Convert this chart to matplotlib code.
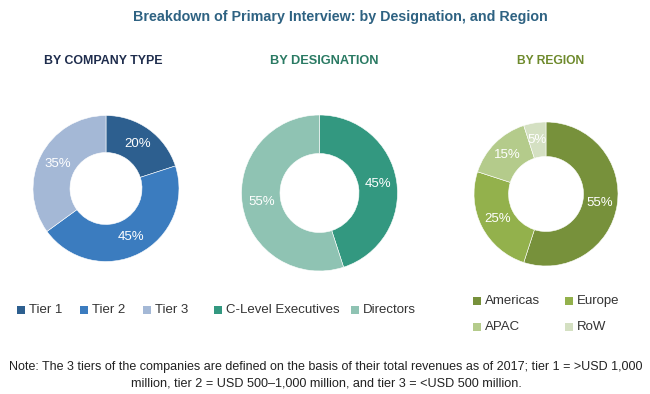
import numpy as np
import matplotlib
matplotlib.use("Agg")
import matplotlib.pyplot as plt

## Data
companyLabels = ["Tier 1", "Tier 2", "Tier 3"]
companyValues = [20, 45, 35]
designationLabels = ["C-Level Executives", "Directors"]
designationValues = [45, 55]
regionLabels = ["Americas", "Europe", "APAC", "RoW"]
regionValues = [55, 25, 15, 5]

companyColors = ["#2d5f8f", "#3b7cbf", "#a4b8d6"]
designationColors = ["#339880", "#8fc3b3"]
regionColors = ["#77913b", "#93b14c", "#b4cb8b", "#d4e0c2"]

plt.rcParams["font.family"] = ["Liberation Sans", "DejaVu Sans"]

W, H = 650, 394
fig = plt.figure(figsize=(6.5, 3.94), dpi=100, facecolor="white")
ax = fig.add_axes([0, 0, 1, 1])
ax.set_xlim(0, W)
ax.set_ylim(0, H)
ax.axis("off")
renderer = fig.canvas.get_renderer()

def Y(y):
  return H - y

def fitText(x, y, s, width, size, **kw):
  # shrink/grow the font so the text spans about `width` pixels
  t = ax.text(x, Y(y), s, fontsize=size, **kw)
  w = t.get_window_extent(renderer).width
  t.set_fontsize(size * width / w)
  return t

def donut(values, colors, cx, cy, r, hole):
  ax.pie(values, colors=colors, center=(cx, Y(cy)), radius=r,
    startangle=90, counterclock=False, frame=True,
    wedgeprops=dict(width=r - hole, edgecolor="white", linewidth=0.4))
  total = float(sum(values))
  start = 90.0
  for v in values:
    mid = np.deg2rad(start - 360.0 * v / total / 2.0)
    rr = (r + hole) / 2.0
    ax.text(cx + rr * np.cos(mid), Y(cy) + rr * np.sin(mid), "{:d}%".format(v),
      color="white", fontsize=9.5, ha="center", va="center")
    start -= 360.0 * v / total

donut(companyValues, companyColors, 106, 188.5, 73, 36)
donut(designationValues, designationColors, 319.5, 193, 78, 39.5)
donut(regionValues, regionColors, 546, 194, 72, 37.5)

## Titles
fitText(340, 17, "Breakdown of Primary Interview: by Designation, and Region", 410, 12,
  color="#2e6282", fontweight="bold", ha="center", va="center")
fitText(103, 61, "BY COMPANY TYPE", 118, 11, color="#1f2d4d",
  fontweight="bold", ha="center", va="center")
fitText(324, 61, "BY DESIGNATION", 108, 11, color="#2a7a63",
  fontweight="bold", ha="center", va="center")
fitText(551, 61, "BY REGION", 68, 11, color="#6e8a2c",
  fontweight="bold", ha="center", va="center")

## Legends
def legend(labels, colors, xs, ys):
  for lab, col, x, y in zip(labels, colors, xs, ys):
    ax.scatter([x], [Y(y)], marker="s", s=30, c=col, linewidths=0)
    ax.text(x + 8, Y(y), lab, fontsize=9.5, color="#333333", ha="left",
      va="center")

legend(companyLabels, companyColors, [21, 84, 147], [310, 310, 310])
legend(designationLabels, designationColors, [218, 355], [310, 310])
legend(regionLabels, regionColors, [477, 569, 477, 569], [301, 301, 327, 327])

## Note
fitText(326, 367, "Note: The 3 tiers of the companies are defined on the basis of their total revenues as of 2017; tier 1 = >USD 1,000",
  636, 9, color="#222222", ha="center", va="center")
fitText(326, 383, "million, tier 2 = USD 500\u20131,000 million, and tier 3 = <USD 500 million.",
  392, 9, color="#222222", ha="center", va="center")

ax.set_xlim(0, W)
ax.set_ylim(0, H)
ax.set_aspect("auto")

plt.savefig("out.png", dpi=100, facecolor="white")
